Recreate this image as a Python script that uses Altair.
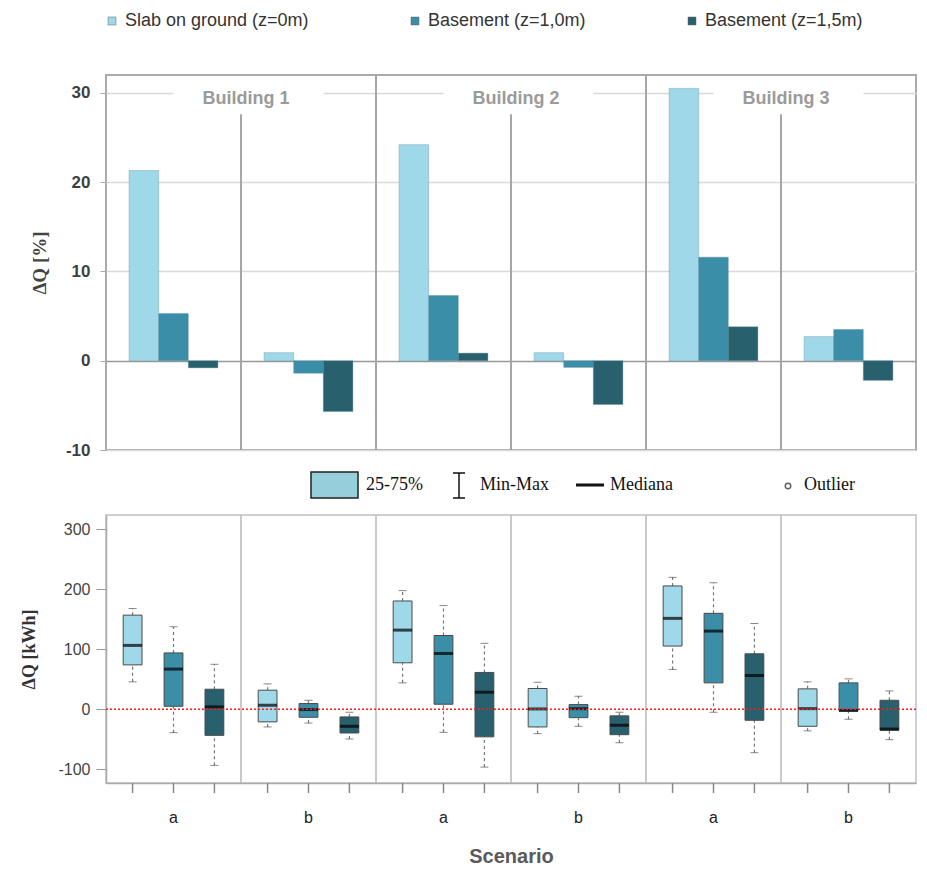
import altair as alt
import pandas as pd

# ---------------- data ----------------
buildings = ["Building 1", "Building 2", "Building 3"]
groups = ["1a", "1b", "2a", "2b", "3a", "3b"]          # building + scenario
series = ["Slab on ground (z=0m)", "Basement (z=1,0m)", "Basement (z=1,5m)"]
series_colors = ["#9fd8e9", "#3a8ea7", "#29606e"]

# top panel: ΔQ [%] per group
dq_slab = [21.3, 0.9, 24.2, 0.9, 30.5, 2.7]
dq_b10 = [5.3, -1.4, 7.3, -0.75, 11.6, 3.5]
dq_b15 = [-0.8, -5.7, 0.85, -4.9, 3.8, -2.2]

# bottom panel: ΔQ [kWh] box statistics per group
slab_low = [45.7, -29.5, 44, -40.7, 66.4, -36]
slab_q1 = [74, -21, 77.5, -29.5, 105.4, -28.4]
slab_med = [106.5, 6.7, 132, 0.5, 151.6, 1]
slab_q3 = [157, 31.8, 180.6, 34.6, 205.7, 34]
slab_high = [168, 42.3, 197.9, 45, 220, 45.7]

b10_low = [-39, -23, -38.5, -28.4, -5, -16.7]
b10_q1 = [5, -13.4, 8.4, -14, 44, -3]
b10_med = [67, -0.5, 93, 1, 130.4, -2]
b10_q3 = [94, 9.5, 123, 7.8, 160, 44]
b10_high = [137.6, 15, 173, 21.7, 211, 50.7]

b15_low = [-93.6, -49.6, -96.5, -55.7, -72.5, -50.7]
b15_q1 = [-43.5, -39.6, -46, -42.4, -18.4, -35]
b15_med = [4, -28.4, 28.4, -26.8, 56.3, -33]
b15_q3 = [33.4, -12.8, 61.4, -11, 92.5, 15]
b15_high = [75, -5, 110, -5, 143, 30.6]

legend_labels = ["25-75%", "Min-Max", "Mediana", "Outlier"]

# ---------------- tables ----------------
bar_rows = []
for s, vals in zip(series, [dq_slab, dq_b10, dq_b15]):
    for g, v in zip(groups, vals):
        bar_rows.append({"grp": g, "series": s, "value": v})
bar_df = pd.DataFrame(bar_rows)

box_rows = []
stats = [
    (slab_low, slab_q1, slab_med, slab_q3, slab_high),
    (b10_low, b10_q1, b10_med, b10_q3, b10_high),
    (b15_low, b15_q1, b15_med, b15_q3, b15_high),
]
for s, (lo, q1, md, q3, hi) in zip(series, stats):
    for i, g in enumerate(groups):
        box_rows.append({"grp": g, "series": s, "low": lo[i], "q1": q1[i],
                         "med": md[i], "q3": q3[i], "high": hi[i]})
box_df = pd.DataFrame(box_rows)

top_dom = [-10, 32]
bot_dom = [-123, 324]

top_sep_df = pd.DataFrame({
    "grp": ["2a", "3a", "1b", "2b", "3b"],
    "y1": [-10, -10, -10, -10, -10],
    "y2": [32, 32, 27.6, 27.6, 27.6],
})
bld_df = pd.DataFrame({"grp": ["1b", "2b", "3b"], "label": buildings, "yv": [30, 30, 30]})
bot_sep_df = pd.DataFrame({"grp": ["1b", "2a", "2b", "3a", "3b"],
                           "y1": [-123] * 5, "y2": [324] * 5})
zero_df = pd.DataFrame({"zero": [0]})
dummy = pd.DataFrame({"k": [0]})

W = 810
SANS = "Liberation Sans"
NARROW = "Liberation Sans Narrow, Arial Narrow, Liberation Sans"
SERIF = "Liberation Serif"

# ---------------- top chart ----------------
xs_top = alt.Scale(domain=groups, paddingInner=0, paddingOuter=0)
ys_top = alt.Scale(domain=top_dom, nice=False, zero=False)
y_axis_top = alt.Axis(
    values=[-10, 0, 10, 20, 30], title="ΔQ [%]", tickSize=6, tickColor="#aaaaaa",
    labelExpr="datum.value + ''",
    labelPadding=10, labelFont=SANS, labelFontWeight="bold", labelFontSize=17,
    labelColor="#3f3f3f", titleFont=SERIF, titleFontSize=19, titleFontWeight="bold",
    titleColor="#444444", titlePadding=16, domain=False, grid=True,
    gridColor=alt.condition("datum.value == 0", alt.value("#999999"), alt.value("#d9d9d9")),
    gridWidth=1.5,
)
color_top = alt.Color(
    "series:N", sort=series,
    scale=alt.Scale(domain=series, range=series_colors),
    legend=alt.Legend(
        orient="none", legendX=-3, legendY=-63, direction="horizontal", title=None,
        symbolType="square", symbolSize=64, symbolStrokeColor="#666666",
        symbolStrokeWidth=0.5, labelFont=NARROW, labelFontSize=18,
        labelColor="#333333", columnPadding=97, labelLimit=400, gridAlign="none",
    ),
)

top_seps = alt.Chart(top_sep_df).mark_rule(color="#a6a6a6", strokeWidth=2).encode(
    x=alt.X("grp:N", bandPosition=0, scale=xs_top, axis=None),
    y=alt.Y("y1:Q", scale=ys_top, axis=y_axis_top),
    y2="y2:Q",
)
top_bars = alt.Chart(bar_df).mark_bar(stroke="#5a8a98", strokeWidth=0.6, strokeOpacity=0.6).encode(
    x=alt.X("grp:N", scale=xs_top, axis=None),
    xOffset=alt.XOffset("series:N", sort=series,
                        scale=alt.Scale(domain=series, paddingInner=0, paddingOuter=0.78)),
    y=alt.Y("value:Q", scale=ys_top, axis=y_axis_top),
    color=color_top,
)
# white band that interrupts the 30-gridline behind each building label
label_gap = alt.Chart(bld_df).mark_point(
    shape="M-0.9,-0.1L1.1,-0.1L1.1,0.1L-0.9,0.1Z", size=22500, filled=True,
    color="white", opacity=1, strokeWidth=0,
).encode(
    x=alt.X("grp:N", bandPosition=0, scale=xs_top, axis=None),
    y=alt.Y("yv:Q", scale=ys_top, axis=y_axis_top),
)
bld_text = alt.Chart(bld_df).mark_text(
    font=SANS, fontSize=18, fontWeight="bold", color="#9a9a9a", dx=5, dy=6,
).encode(
    x=alt.X("grp:N", bandPosition=0, scale=xs_top, axis=None),
    y=alt.Y("yv:Q", scale=ys_top, axis=y_axis_top),
    text="label:N",
)

top = alt.layer(top_seps, top_bars, label_gap, bld_text).properties(
    width=W, height=375,
    view=alt.ViewBackground(stroke="#aaaaaa", strokeWidth=2),
)

# ---------------- middle legend ----------------
L = alt.Chart(dummy)
txt_kw = dict(align="left", baseline="middle", font=SERIF, fontSize=18, color="#111111")
mid = alt.layer(
    L.mark_rect(fill="#96cedc", stroke="#222222", strokeWidth=1.5).encode(
        x=alt.value(205), x2=alt.value(252), y=alt.value(13), y2=alt.value(39)),
    L.mark_text(**txt_kw).encode(x=alt.value(260), y=alt.value(26), text=alt.value(legend_labels[0])),
    L.mark_rule(color="#111111", strokeWidth=1.5).encode(
        x=alt.value(353), y=alt.value(14), y2=alt.value(39)),
    L.mark_rule(color="#111111", strokeWidth=1.5).encode(
        x=alt.value(347), x2=alt.value(359), y=alt.value(14)),
    L.mark_rule(color="#111111", strokeWidth=1.5).encode(
        x=alt.value(347), x2=alt.value(359), y=alt.value(39)),
    L.mark_text(**txt_kw).encode(x=alt.value(374), y=alt.value(26), text=alt.value(legend_labels[1])),
    L.mark_rule(color="#111111", strokeWidth=3).encode(
        x=alt.value(470), x2=alt.value(498), y=alt.value(26)),
    L.mark_text(**txt_kw).encode(x=alt.value(504), y=alt.value(26), text=alt.value(legend_labels[2])),
    L.mark_point(shape="circle", size=30, filled=False, color="#222222", strokeWidth=1.5).encode(
        x=alt.value(682), y=alt.value(27)),
    L.mark_text(**txt_kw).encode(x=alt.value(698), y=alt.value(26), text=alt.value(legend_labels[3])),
).properties(width=W, height=54, view=alt.ViewBackground(strokeOpacity=0))

# ---------------- bottom chart ----------------
xs_bot = alt.Scale(domain=groups, paddingInner=0, paddingOuter=0)
xo_bot = alt.XOffset("series:N", sort=series,
                     scale=alt.Scale(domain=series, paddingInner=0.54, paddingOuter=0.42))
ys_bot = alt.Scale(domain=bot_dom, nice=False, zero=False)
x_axis_bot = alt.Axis(
    title="Scenario", labelExpr="substring(datum.label, 1)", ticks=False,
    labelPadding=26, labelFont=SANS, labelFontSize=16, labelColor="#222222",
    labelAngle=0, domainColor="#aaaaaa", domainWidth=1.5, grid=False,
    titleFont=NARROW, titleFontSize=20, titleFontWeight="bold",
    titleColor="#5a5a5a", titlePadding=21,
)
y_axis_bot = alt.Axis(
    title="ΔQ [kWh]", values=[-100, 0, 100, 200, 300], tickSize=10,
    labelExpr="datum.value + ''",
    tickColor="#999999", labelPadding=6, labelFont=SANS, labelFontSize=16,
    labelColor="#444444", titleFont=SERIF, titleFontSize=18, titleFontWeight="bold",
    titleColor="#333333", titlePadding=19, grid=False, domainColor="#aaaaaa",
    domainWidth=1.5,
)
xb = alt.X("grp:N", scale=xs_bot, axis=x_axis_bot)
xb0 = alt.X("grp:N", bandPosition=0, scale=xs_bot, axis=x_axis_bot)
color_bot = alt.Color("series:N", sort=series,
                      scale=alt.Scale(domain=series, range=series_colors), legend=None)

B = alt.Chart(box_df)
bot = alt.layer(
    alt.Chart(bot_sep_df).mark_rule(color="#b8b8b8", strokeWidth=1.5).encode(
        x=xb0, y=alt.Y("y1:Q", scale=ys_bot, axis=y_axis_bot), y2="y2:Q"),
    B.mark_rule(color="#777777", strokeDash=[3, 3], strokeWidth=1.2).encode(
        x=xb, xOffset=xo_bot, y=alt.Y("low:Q", scale=ys_bot, axis=y_axis_bot), y2="q1:Q"),
    B.mark_rule(color="#777777", strokeDash=[3, 3], strokeWidth=1.2).encode(
        x=xb, xOffset=xo_bot, y=alt.Y("q3:Q", scale=ys_bot, axis=y_axis_bot), y2="high:Q"),
    B.mark_tick(color="#555555", size=8, thickness=1).encode(
        x=xb, xOffset=xo_bot, y=alt.Y("low:Q", scale=ys_bot, axis=y_axis_bot)),
    B.mark_tick(color="#555555", size=8, thickness=1).encode(
        x=xb, xOffset=xo_bot, y=alt.Y("high:Q", scale=ys_bot, axis=y_axis_bot)),
    B.mark_bar(stroke="#4a4a4a", strokeWidth=1).encode(
        x=xb, xOffset=xo_bot, y=alt.Y("q1:Q", scale=ys_bot, axis=y_axis_bot), y2="q3:Q",
        color=color_bot),
    B.mark_tick(color="#000000", size=19, thickness=3).encode(
        x=xb, xOffset=xo_bot, y=alt.Y("med:Q", scale=ys_bot, axis=y_axis_bot)),
    alt.Chart(zero_df).mark_rule(color="#ff1a1a", strokeDash=[2, 2], strokeWidth=1.6).encode(
        y=alt.Y("zero:Q", scale=ys_bot, axis=y_axis_bot)),
    B.mark_rule(color="#888888", strokeWidth=1.5).encode(
        x=xb, xOffset=xo_bot, y=alt.value(268), y2=alt.value(278)),
).properties(width=W, height=268,
             view=alt.ViewBackground(stroke="#c0c0c0", strokeWidth=1.5))

chart = alt.vconcat(top, mid, bot, spacing=0).resolve_scale(
    color="independent", x="independent", y="independent", xOffset="independent"
).properties(
    padding={"left": 12, "top": 3, "right": 0, "bottom": 0}
).configure(font=SANS, background="white")

chart.save("out.html", embed_options={"renderer": "svg", "actions": False})
